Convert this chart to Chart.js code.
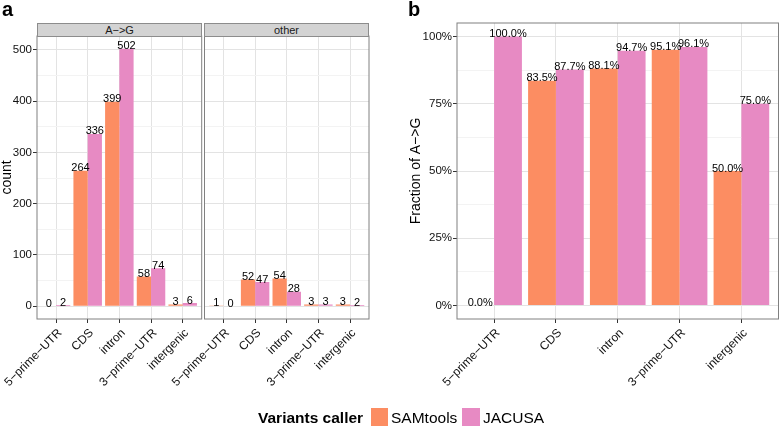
<!DOCTYPE html>
<html>
<head>
<meta charset="utf-8">
<script src="https://cdn.jsdelivr.net/npm/chart.js@4/dist/chart.umd.min.js"></script>
<style>
  html,body{margin:0;padding:0;background:#fff;}
  body{width:779px;height:427px;position:relative;overflow:hidden;font-family:"Liberation Sans",Arial,sans-serif;color:#000;}
  canvas{position:absolute;left:0;top:0;}
  .strip{position:absolute;box-sizing:border-box;background:#D3D3D3;border:1px solid #8C8C8C;text-align:center;font-size:11px;line-height:12px;color:#1a1a1a;}
  .letter{position:absolute;font-weight:bold;font-size:20px;line-height:20px;}
  .leg{position:absolute;font-size:15.5px;line-height:15px;white-space:nowrap;}
  .sw{position:absolute;width:17px;height:18px;}
</style>
</head>
<body>
<canvas id="cAG" width="779" height="427"></canvas>
<canvas id="cOther" width="779" height="427"></canvas>
<canvas id="cFrac" width="779" height="427"></canvas>

<div class="letter" style="left:2px;top:-1px;">a</div>
<div class="letter" style="left:408px;top:-1px;">b</div>
<div class="strip" style="left:37px;top:23px;width:165px;height:14px;">A−&gt;G</div>
<div class="strip" style="left:204px;top:23px;width:165px;height:14px;">other</div>

<div class="leg" style="left:258px;top:410px;font-weight:bold;">Variants caller</div>
<div class="sw" id="sw0" style="left:371px;top:408px;"></div>
<div class="leg" style="left:391px;top:410px;" id="lg0"></div>
<div class="sw" id="sw1" style="left:462px;top:408px;width:18px;"></div>
<div class="leg" style="left:483px;top:410px;" id="lg1"></div>

<script>
// ---------------- data ----------------
const categories = ['5−prime−UTR', 'CDS', 'intron', '3−prime−UTR', 'intergenic'];
const seriesNames = ['SAMtools', 'JACUSA'];
const seriesColors = ['#FC8D62', '#E78AC3'];

const agSAMtools = [0, 264, 399, 58, 3];
const agJACUSA   = [2, 336, 502, 74, 6];
const otherSAMtools = [1, 52, 54, 3, 3];
const otherJACUSA   = [0, 47, 28, 3, 2];

const fracSAMtools = [0.000, 0.835, 0.881, 0.951, 0.500];
const fracJACUSA   = [1.000, 0.877, 0.947, 0.961, 0.750];

const countTicks = [0, 100, 200, 300, 400, 500];
const countMinorTicks = [50, 150, 250, 350, 450];
const fracTicks = [0, 0.25, 0.5, 0.75, 1];
const fracTickLabels = ['0%', '25%', '50%', '75%', '100%'];
const fracMinorTicks = [0.125, 0.375, 0.625, 0.875];

// ---------------- helpers ----------------
Chart.defaults.font.family = '"Liberation Sans", Arial, sans-serif';
Chart.defaults.animation = false;

document.getElementById('sw0').style.background = seriesColors[0];
document.getElementById('sw1').style.background = seriesColors[1];
document.getElementById('lg0').textContent = seriesNames[0];
document.getElementById('lg1').textContent = seriesNames[1];

function toPoints(arr){ return arr.map((v,i)=>({x:i, y:v})); }

function makeLabelPlugin(fmt){
  return {
    id:'barLabels',
    afterDatasetsDraw(chart){
      const ctx = chart.ctx;
      ctx.save();
      ctx.font = '11px "Liberation Sans", Arial, sans-serif';
      ctx.fillStyle = '#000';
      ctx.textAlign = 'center';
      ctx.textBaseline = 'alphabetic';
      chart.data.datasets.forEach((ds, di) => {
        const meta = chart.getDatasetMeta(di);
        meta.data.forEach((el, i) => {
          ctx.fillText(fmt(ds.data[i].y), el.x, el.y + 0.5);
        });
      });
      ctx.restore();
    }
  };
}

const borderPlugin = {
  id:'panelBorder',
  afterDraw(chart){
    const a = chart.chartArea, ctx = chart.ctx;
    ctx.save();
    ctx.strokeStyle = '#808080';
    ctx.lineWidth = 1;
    ctx.strokeRect(a.left, a.top, a.right - a.left, a.bottom - a.top);
    ctx.restore();
  }
};

function makeChart(id, cfg){
  const majors = cfg.yTicks, minors = cfg.yMinor;
  const allY = majors.map(v=>({value:v, minorGrid:false})).concat(minors.map(v=>({value:v, minorGrid:true})))
                     .sort((p,q)=>p.value-q.value);
  return new Chart(document.getElementById(id), {
    type:'bar',
    data:{
      datasets:[
        {label:seriesNames[0], data:toPoints(cfg.s1), backgroundColor:seriesColors[0], borderWidth:0},
        {label:seriesNames[1], data:toPoints(cfg.s2), backgroundColor:seriesColors[1], borderWidth:0}
      ]
    },
    options:{
      responsive:false,
      devicePixelRatio:1,
      events:[],
      categoryPercentage:0.9,
      barPercentage:1.0,
      layout:{padding:{left:cfg.padL, top:cfg.padT, right:cfg.padR, bottom:0}},
      plugins:{legend:{display:false}, tooltip:{enabled:false}, title:{display:false}},
      scales:{
        x:{
          type:'linear', offset:false, min:-0.6, max:categories.length - 0.4,
          grid:{offset:false, color:'#E3E3E3', lineWidth:1, drawTicks:true, tickLength:4, tickColor:'#333'},
          border:{display:false},
          afterBuildTicks(s){ s.ticks = categories.map((c,i)=>({value:i})); },
          ticks:{autoSkip:false, minRotation:45, maxRotation:45, padding:3, labelOffset:4, color:'#111',
                 font:{size:12}, callback:(v)=>categories[v]},
          afterFit(s){ s.height = 427 - cfg.bottom; s.paddingLeft = 0; s.paddingRight = 0; s.paddingTop = 0; s.paddingBottom = 0; }
        },
        y:{
          type:'linear', min:cfg.yMin, max:cfg.yMax, bounds:'data',
          grid:{
            color:(c)=> (c.tick && c.tick.minorGrid) ? '#F3F3F3' : '#E3E3E3',
            tickColor:(c)=> (c.tick && c.tick.minorGrid) ? 'rgba(0,0,0,0)' : '#333',
            drawTicks:cfg.showY, tickLength:4, lineWidth:1
          },
          border:{display:false},
          afterBuildTicks(s){ s.ticks = allY.map(t=>({value:t.value, minorGrid:t.minorGrid})); },
          ticks:{display:cfg.showY, autoSkip:false, padding:1, color:'#111', font:{size:11.5},
                 callback:(v, i, t)=> t[i].minorGrid ? '' : cfg.yLabel(v)},
          title:{display:!!cfg.yTitle, text:cfg.yTitle || '', color:'#000', font:{size:14, lineHeight:1}, padding:{top:0, bottom:0}},
          afterFit(s){ s.width = cfg.yW; s.paddingTop = 0; s.paddingBottom = 0; s.paddingLeft = 0; s.paddingRight = 0; }
        }
      }
    },
    plugins:[makeLabelPlugin(cfg.fmt), borderPlugin]
  });
}

const countMax = 502 * 1.05;
const countMin = -502 * 0.05;

makeChart('cAG', {
  s1:agSAMtools, s2:agJACUSA, yTicks:countTicks, yMinor:countMinorTicks,
  yMin:countMin, yMax:countMax, yLabel:(v)=>String(v), fmt:(v)=>String(v),
  padL:0, yW:37, padT:36, padR:779-201.7, bottom:319, showY:true, yTitle:'count'
});
makeChart('cOther', {
  s1:otherSAMtools, s2:otherJACUSA, yTicks:countTicks, yMinor:countMinorTicks,
  yMin:countMin, yMax:countMax, yLabel:(v)=>String(v), fmt:(v)=>String(v),
  padL:204.5, yW:0, padT:36, padR:779-369, bottom:319, showY:false, yTitle:null
});
makeChart('cFrac', {
  s1:fracSAMtools, s2:fracJACUSA, yTicks:fracTicks, yMinor:fracMinorTicks,
  yMin:-0.05, yMax:1.05, yLabel:(v)=>fracTickLabels[fracTicks.indexOf(v)], fmt:(v)=>(v*100).toFixed(1)+'%',
  padL:409, yW:48, padT:23, padR:0.5, bottom:319, showY:true, yTitle:'Fraction of A−>G'
});
</script>
</body>
</html>
